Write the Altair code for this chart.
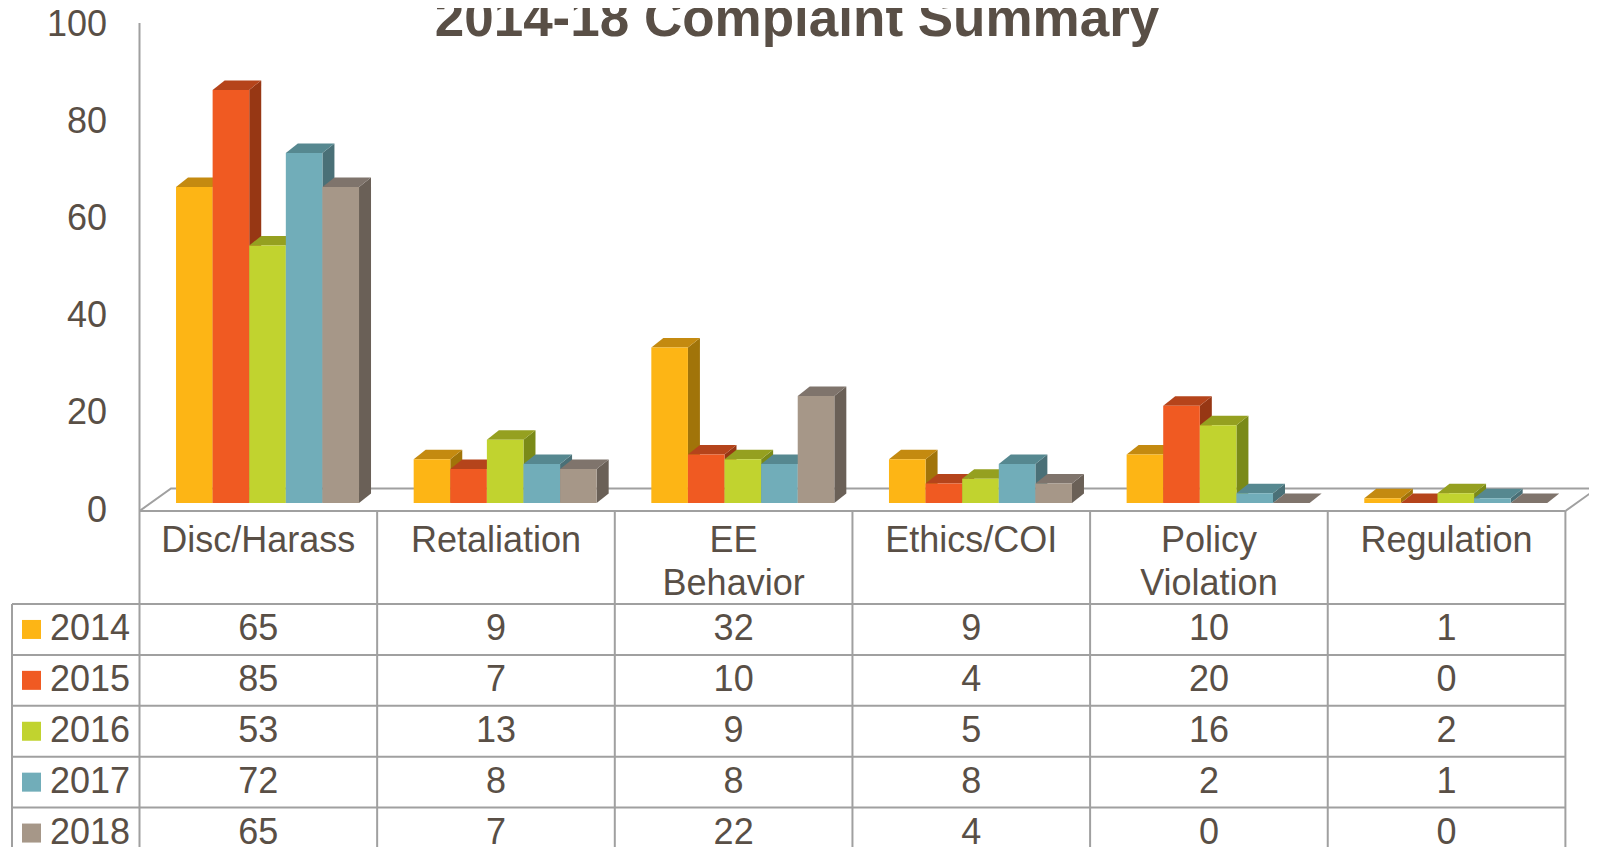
import altair as alt
import pandas as pd

# ---------------- data ----------------
categories = ["Disc/Harass", "Retaliation", "EE\nBehavior", "Ethics/COI", "Policy\nViolation", "Regulation"]
years = ["2014", "2015", "2016", "2017", "2018"]
values_2014 = [65, 9, 32, 9, 10, 1]
values_2015 = [85, 7, 10, 4, 20, 0]
values_2016 = [53, 13, 9, 5, 16, 2]
values_2017 = [72, 8, 8, 8, 2, 1]
values_2018 = [65, 7, 22, 4, 0, 0]
y_ticks = [0, 20, 40, 60, 80, 100]
title_text = "2014-18 Complaint Summary"

series = [values_2014, values_2015, values_2016, values_2017, values_2018]

# ---------------- styles ----------------
FONT = "Liberation Sans"
TEXT = "#594F46"
GRID = "#A0A0A0"
FRONT = ["#FDB515", "#F05A22", "#C1D32F", "#71ADB9", "#A69788"]
TOP = ["#C48A10", "#B5441B", "#95A020", "#568890", "#7F746C"]
SIDE = ["#A17409", "#973714", "#7A8A18", "#4A7077", "#6A6057"]

# ---------------- layout ----------------
W, H = 1581, 839
COL_PX = 237.65          # width of one category column
UNIT_PX = 4.86           # pixels per complaint
ORIGIN_X_PX = 131.5      # left edge of first category column
BASE_Y_PX = 495          # value 0 (front of bars)

X_MIN = -0.5 - ORIGIN_X_PX / COL_PX
X_MAX = X_MIN + W / COL_PX
Y_MAX = BASE_Y_PX / UNIT_PX
Y_MIN = Y_MAX - H / UNIT_PX


def px2x(px):
    return X_MIN + px / COL_PX


def px2y(py):
    return Y_MAX - py / UNIT_PX


BAR_W = 36.6 / COL_PX
BAR0 = -82.3 / COL_PX
DX = 12 / COL_PX
DY = 9.5 / UNIT_PX
FDX = 31.5 / COL_PX
FDY = 22.5 / UNIT_PX
FLOOR_FRONT = px2y(503)
AXIS_TOP = px2y(15)
HEADER_L1 = px2y(533)
LINE_H = 42.6 / UNIT_PX
ROW_TOP0 = px2y(596)
ROW_H = 50.9 / UNIT_PX
LEG_LEFT = px2x(4)
LEG_SQ = px2x(23.5)
LEG_TXT = px2x(42)
TICK_X = px2x(99)
TICK_SHIFT = 7.5 / UNIT_PX
TITLE_X = px2x(789)
TITLE_Y = px2y(28)
n_cat = len(categories)

# ---------------- tables ----------------
front_rows, top_rows, side_rows = [], [], []
for j, (yr, vals) in enumerate(zip(years, series)):
    for i, v in enumerate(vals):
        x0 = i + BAR0 + j * BAR_W
        x1 = x0 + BAR_W
        bid = f"{i}-{j}"
        front_rows.append(dict(year=yr, x0=x0, x1=x1, y0=0, y1=v))
        top_rows += [
            dict(bar=bid, year=yr, x=x0, ya=v, yb=v),
            dict(bar=bid, year=yr, x=x0 + DX, ya=v + DY, yb=v),
            dict(bar=bid, year=yr, x=x1, ya=v + DY, yb=v),
            dict(bar=bid, year=yr, x=x1 + DX, ya=v + DY, yb=v + DY),
        ]
        side_rows += [
            dict(bar=bid, year=yr, x=x1, ya=v, yb=0),
            dict(bar=bid, year=yr, x=x1 + DX, ya=v + DY, yb=DY),
        ]
front_df = pd.DataFrame(front_rows)
top_df = pd.DataFrame(top_rows)
side_df = pd.DataFrame(side_rows)

floor_df = pd.DataFrame([
    dict(o=0, x=-0.5, y=FLOOR_FRONT),
    dict(o=1, x=-0.5 + FDX, y=FLOOR_FRONT + FDY),
    dict(o=2, x=n_cat - 0.5 + FDX, y=FLOOR_FRONT + FDY),
    dict(o=3, x=n_cat - 0.5, y=FLOOR_FRONT),
])
axis_df = pd.DataFrame([dict(x=-0.5, y=FLOOR_FRONT, y2=AXIS_TOP)])
tick_df = pd.DataFrame([dict(x=TICK_X, y=v - TICK_SHIFT, t=str(v)) for v in y_ticks])
title_df = pd.DataFrame([dict(x=TITLE_X, y=TITLE_Y, t=title_text)])

hrules = [dict(x=-0.5, x2=n_cat - 0.5, y=FLOOR_FRONT)]
for r in range(len(years)):
    hrules.append(dict(x=LEG_LEFT, x2=n_cat - 0.5, y=ROW_TOP0 - r * ROW_H))
hrule_df = pd.DataFrame(hrules)
vrules = [dict(x=-0.5 + k, y=FLOOR_FRONT, y2=Y_MIN) for k in range(n_cat + 1)]
vrules.append(dict(x=LEG_LEFT, y=ROW_TOP0, y2=Y_MIN))
vrule_df = pd.DataFrame(vrules)

header_rows = []
for i, c in enumerate(categories):
    for k, line in enumerate(c.split("\n")):
        header_rows.append(dict(x=i, y=HEADER_L1 - k * LINE_H, t=line))
header_df = pd.DataFrame(header_rows)

cell_rows, leg_rows = [], []
for r, (yr, vals) in enumerate(zip(years, series)):
    yc = ROW_TOP0 - (r + 0.5) * ROW_H
    leg_rows.append(dict(year=yr, xs=LEG_SQ, xt=LEG_TXT, y=yc))
    for i, v in enumerate(vals):
        cell_rows.append(dict(x=i, y=yc, t=str(v)))
cell_df = pd.DataFrame(cell_rows)
leg_df = pd.DataFrame(leg_rows)

# ---------------- encodings ----------------
xs = alt.Scale(domain=[X_MIN, X_MAX], nice=False, zero=False)
ys = alt.Scale(domain=[Y_MIN, Y_MAX], nice=False, zero=False)


def X(f):
    return alt.X(f"{f}:Q", scale=xs, axis=None)


def Y(f):
    return alt.Y(f"{f}:Q", scale=ys, axis=None, stack=None)


def col(rng):
    return alt.Color("year:N", scale=alt.Scale(domain=years, range=rng), legend=None)


def txt(df, align="center", **kw):
    return alt.Chart(df).mark_text(font=FONT, fontSize=36, color=TEXT, baseline="middle",
                                   align=align, **kw).encode(x=X("x"), y=Y("y"), text="t:N")


floor = alt.Chart(floor_df).mark_line(color=GRID, strokeWidth=2).encode(
    x=X("x"), y=Y("y"), order="o:Q")
axis_line = alt.Chart(axis_df).mark_rule(color=GRID, strokeWidth=2).encode(
    x=X("x"), y=Y("y"), y2="y2:Q")
sides = alt.Chart(side_df).mark_area(orient="vertical", interpolate="linear").encode(
    x=X("x"), y=Y("ya"), y2="yb:Q", detail="bar:N", color=col(SIDE))
tops = alt.Chart(top_df).mark_area(orient="vertical", interpolate="linear").encode(
    x=X("x"), y=Y("ya"), y2="yb:Q", detail="bar:N", color=col(TOP))
fronts = alt.Chart(front_df).mark_rect().encode(
    x=X("x0"), x2="x1:Q", y=Y("y1"), y2="y0:Q", color=col(FRONT))
hr = alt.Chart(hrule_df).mark_rule(color=GRID, strokeWidth=2).encode(
    x=X("x"), x2="x2:Q", y=Y("y"))
vr = alt.Chart(vrule_df).mark_rule(color=GRID, strokeWidth=2).encode(
    x=X("x"), y=Y("y"), y2="y2:Q")
ticks = txt(tick_df, align="right")
title = txt(title_df).mark_text(font=FONT, fontSize=53, fontWeight="bold", color=TEXT,
                                baseline="alphabetic", align="center")
header = txt(header_df)
cells = txt(cell_df)
leg_sq = alt.Chart(leg_df).mark_square(size=361, opacity=1, filled=True).encode(
    x=X("xs"), y=Y("y"), color=col(FRONT))
leg_tx = alt.Chart(leg_df).mark_text(font=FONT, fontSize=36, color=TEXT, baseline="middle", align="left").encode(
    x=X("xt"), y=Y("y"), text="year:N")

chart = alt.layer(
    floor, axis_line, sides, tops, fronts, hr, vr, ticks, title, header, cells, leg_sq, leg_tx
).resolve_scale(color="independent").properties(
    width=W, height=H,
    autosize=alt.AutoSizeParams(type="none"),
    padding=0,
    background="white",
).configure_view(stroke=None)

chart.save("out.html", embed_options={"renderer": "svg", "actions": False})
